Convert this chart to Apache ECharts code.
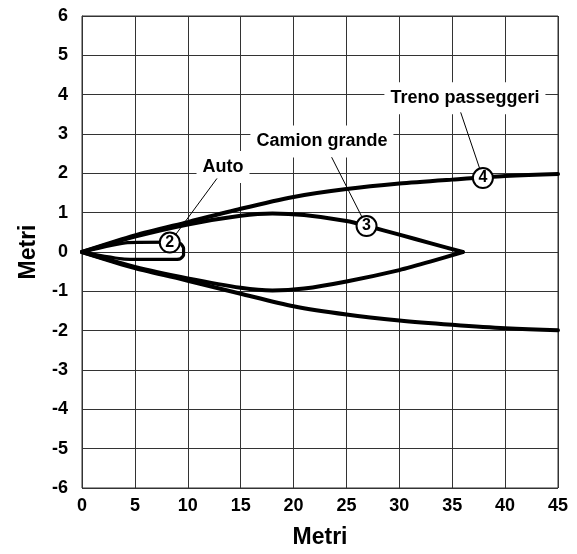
<!DOCTYPE html>
<html>
<head>
<meta charset="utf-8">
<script src="https://cdn.jsdelivr.net/npm/echarts@6/dist/echarts.min.js"></script>
<style>html,body{margin:0;padding:0;background:#fff}#c{width:577px;height:554px}</style>
</head>
<body>
<div id="c"></div>
<script>
var xTicks = [0,5,10,15,20,25,30,35,40,45];
var yTicks = [-6,-5,-4,-3,-2,-1,0,1,2,3,4,5,6];
var trainUpper = [[0,0],[5,0.42],[10,0.76],[15,1.1],[20,1.4],[25,1.6],[30,1.74],[35,1.84],[40,1.93],[45,1.98]];
var trainLower = [[0,0],[5,-0.41],[10,-0.73],[15,-1.06],[20,-1.38],[25,-1.59],[30,-1.74],[35,-1.85],[40,-1.94],[45,-1.99]];
var truckUpper = [[0,0],[5,0.39],[10,0.7],[15,0.92],[18,0.98],[21,0.94],[25,0.79],[27,0.66],[30,0.44],[33,0.22],[36,0]];
var truckLower = [[0,0],[5,-0.38],[10,-0.67],[15,-0.91],[18,-0.98],[21,-0.93],[25,-0.75],[30,-0.46],[33,-0.24],[36,0]];
var car = [[0,0],[4.3,0.24],[8.8,0.25],[9.35,0.21],[9.6,0.1],[9.6,-0.08],[9.3,-0.17],[8.5,-0.19],[4,-0.18],[0,0]];
var markerNames = ['2','3','4'];
var markerPos = [[8.3,0.24],[26.9,0.66],[37.9,1.88]];
var labelNames = ['Auto','Camion grande','Treno passeggeri'];
var labelPos = [[13.33,2.16],[22.68,2.81],[36.2,3.91]];
var leaderStart = [[12.76,1.87],[23.6,2.41],[35.8,3.55]];

var FONT = '"Liberation Sans", Arial, sans-serif';
var series = [];
function curve(d){
  return {type:'line', data:d, smooth:0.25, symbol:'none', z:5,
    lineStyle:{color:'#000', width:4, cap:'round', join:'round'}};
}
[trainUpper, trainLower, truckUpper, truckLower].forEach(function(d){ series.push(curve(d)); });
series.push({type:'line', data:car, smooth:0.15, symbol:'none', z:5,
  lineStyle:{color:'#000', width:3.2, join:'round'}});
for (var i=0;i<leaderStart.length;i++){
  series.push({type:'line', data:[leaderStart[i], markerPos[i]], symbol:'none', z:4,
    lineStyle:{color:'#000', width:1}});
}
series.push({type:'scatter', z:3, symbol:'rect', symbolSize:1,
  itemStyle:{color:'transparent', opacity:1},
  data: labelNames.map(function(n,i){ return {name:n, value:labelPos[i]}; }),
  label:{show:true, position:'inside', formatter:'{b}', color:'#000',
    textBorderWidth:0, fontFamily:FONT, fontWeight:'bold', fontSize:18,
    backgroundColor:'#fff', padding:[7,6]}});
series.push({type:'scatter', z:10, symbol:'circle', symbolSize:20,
  itemStyle:{color:'#fff', borderColor:'#000', borderWidth:2, opacity:1},
  data: markerNames.map(function(n,i){ return {name:n, value:markerPos[i]}; }),
  label:{show:true, position:'inside', formatter:'{b}', color:'#000',
    textBorderWidth:0, fontFamily:FONT, fontWeight:'bold', fontSize:16}});

var chart = echarts.init(document.getElementById('c'), null, {renderer:'canvas'});
chart.setOption({
  animation:false,
  grid:{left:82, right:19, top:16, bottom:62, show:true, borderColor:'#333', borderWidth:1},
  xAxis:{type:'value', min:xTicks[0], max:xTicks[xTicks.length-1], interval:5,
    name:'Metri', nameLocation:'middle', nameGap:38,
    nameTextStyle:{fontFamily:FONT, fontWeight:'bold', fontSize:23, color:'#000'},
    axisLine:{show:true, lineStyle:{color:'#333', width:1}},
    axisTick:{show:false},
    axisLabel:{margin:9, fontFamily:FONT, fontWeight:'bold', fontSize:18, color:'#000'},
    splitLine:{show:true, lineStyle:{color:'#333', width:1}}},
  yAxis:{type:'value', min:yTicks[0], max:yTicks[yTicks.length-1], interval:1,
    name:'Metri', nameLocation:'middle', nameGap:42,
    nameTextStyle:{fontFamily:FONT, fontWeight:'bold', fontSize:23, color:'#000'},
    axisLine:{show:true, lineStyle:{color:'#333', width:1}},
    axisTick:{show:false},
    axisLabel:{margin:14, fontFamily:FONT, fontWeight:'bold', fontSize:18, color:'#000'},
    splitLine:{show:true, lineStyle:{color:'#333', width:1}}},
  series:series
});
</script>
</body>
</html>
